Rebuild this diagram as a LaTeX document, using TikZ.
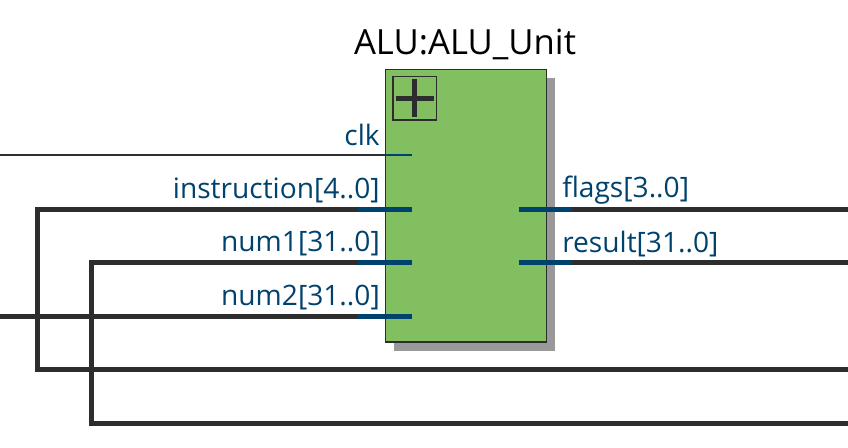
\documentclass[tikz,border=0pt]{standalone}
\usepackage{xcolor}
\usepackage{fontspec}
\setmainfont{Open Sans}
\definecolor{alugreen}{RGB}{130,191,96}
\definecolor{portblue}{RGB}{0,66,110}
\definecolor{wiregray}{RGB}{45,45,45}
\tikzset{
  unitbox/.style={draw=wiregray,fill=alugreen,line width=1.3pt,minimum width=161pt*0.75,minimum height=272.5pt*0.75,inner sep=0pt,outer sep=0pt,anchor=north west},
  portlabel/.style={text=portblue,font=\fontsize{21.1}{21.1}\selectfont,inner sep=0pt},
  busport/.style={portblue,line width=3.75pt},
  clkport/.style={portblue,line width=1.1pt},
  buswire/.style={wiregray,line width=3.75pt,line join=miter},
  thinwire/.style={wiregray,line width=1.1pt}
}
\begin{document}
\begin{tikzpicture}[x=0.75pt,y=-0.75pt]
  \useasboundingbox (0,0) rectangle (848,448);
  % shadow and body
  \fill[black!40] (394,78) rectangle (555,351);
  \node[unitbox] (alu) at (385.5,69.5) {};
  \node[font=\fontsize{26}{26}\selectfont,inner sep=0pt] (title) at (465,44) {ALU:ALU\_Unit};
  % expand icon
  \node[draw=wiregray,line width=1.1pt,minimum size=32.5pt,inner sep=0pt,outer sep=0pt] (icon) at (414.7,98.4) {};
  \draw[wiregray,line width=3.75pt] (icon.center) ++(-19,0) -- ++(38,0);
  \draw[wiregray,line width=3.75pt] (icon.center) ++(0,-19) -- ++(0,38);
  % inputs
  \coordinate (clkin) at (412,155);
  \coordinate (clkpin) at (385,155);
  \coordinate (clkend) at (0,155);
  \coordinate (instrin) at (412,209.5);
  \coordinate (instrpin) at (358,209.5);
  \coordinate (num1in) at (412,262.5);
  \coordinate (num1pin) at (358,262.5);
  \coordinate (num2in) at (412,316.5);
  \coordinate (num2pin) at (358,316.5);
  \coordinate (num2end) at (0,316.5);
  % outputs
  \coordinate (flagsout) at (519,209.5);
  \coordinate (flagspin) at (572,209.5);
  \coordinate (flagsend) at (848,209.5);
  \coordinate (resultout) at (519,262.5);
  \coordinate (resultpin) at (572,262.5);
  \coordinate (resultend) at (848,262.5);
  % wires
  \coordinate (loopa) at (848,369.5);
  \coordinate (loopb) at (848,423);
  \draw[thinwire] (clkend) -- (clkpin);
  \draw[buswire] (instrpin) -- (37,209.5) -- (37,369.5) -- (loopa);
  \draw[buswire] (num1pin) -- (91,262.5) -- (91,423) -- (loopb);
  \draw[buswire] (num2end) -- (num2pin);
  \draw[buswire] (flagspin) -- (flagsend);
  \draw[buswire] (resultpin) -- (resultend);
  % stubs
  \draw[clkport] (clkpin) -- (clkin);
  \draw[busport] (instrpin) -- (instrin);
  \draw[busport] (num1pin) -- (num1in);
  \draw[busport] (num2pin) -- (num2in);
  \draw[busport] (flagsout) -- (flagspin);
  \draw[busport] (resultout) -- (resultpin);
  % labels
  \node[portlabel,anchor=east] (clklabel) at (380,135) {clk};
  \node[portlabel,anchor=east] (instrlabel) at (380,190) {instruction[4..0]};
  \node[portlabel,anchor=east] (num1label) at (380,244) {num1[31..0]};
  \node[portlabel,anchor=east] (num2label) at (380,298) {num2[31..0]};
  \node[portlabel,anchor=west] (flagslabel) at (562,190) {flags[3..0]};
  \node[portlabel,anchor=west] (resultlabel) at (562,244) {result[31..0]};
\end{tikzpicture}
\end{document}
